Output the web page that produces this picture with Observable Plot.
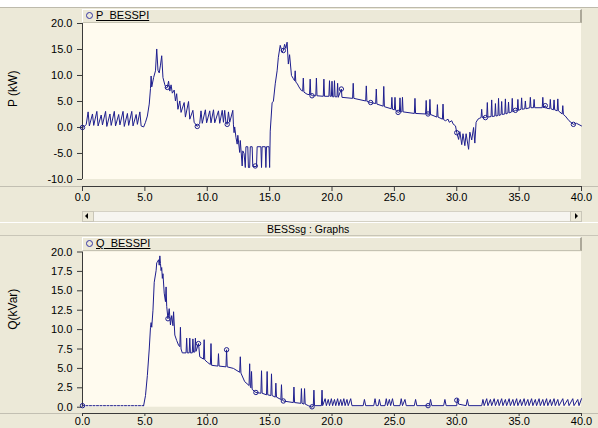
<!DOCTYPE html>
<html>
<head>
<meta charset="utf-8">
<script src="https://cdn.jsdelivr.net/npm/d3@7"></script>
<script src="https://cdn.jsdelivr.net/npm/@observablehq/plot@0.6"></script>
<style>
  body { margin: 0; background: #ECE9D8; }
  #wrap { position: relative; width: 598px; height: 428px; overflow: hidden; background: #ECE9D8;
          font-family: "Liberation Sans", Arial, sans-serif; color: #000; }
  .abs { position: absolute; }
  .leg { position: absolute; left: 82px; width: 497px; height: 12px; background: #ECE9D8;
         border-top: 1px solid #fff; border-left: 1px solid #fff; border-right: 2px solid #ACA899; border-bottom: 1px solid #C5C2B2; }
  .sym { position: absolute; left: 3px; top: 2px; width: 5px; height: 5px; border: 1px solid #3535A5; border-radius: 50%; }
  .lt { position: absolute; left: 13px; top: -1px; font-size: 11px; line-height: 13px; text-decoration: underline; }
  .hline { position: absolute; left: 0; width: 598px; height: 1px; }
</style>
</head>
<body>
<div id="wrap">
  <div class="abs" style="left:0;top:0;width:598px;height:7px;background:#fff;border-bottom:1px solid #BDBAAC"></div>
  <div class="hline" style="top:186px;background:#C2BFB2"></div>
  <div class="hline" style="top:413px;background:#C2BFB2"></div>
  <div id="topChart" class="abs" style="left:0;top:0"></div>
  <div id="botChart" class="abs" style="left:0;top:240px"></div>

  <div class="leg" style="top:9px"><span class="sym"></span><span class="lt">P_BESSPI</span></div>

  <!-- scrollbar -->
  <div class="abs" style="left:82px;top:211px;width:498px;height:9px;background:#F6F5F0;border:1px solid #D4D1C4"></div>
  <div class="abs" style="left:82px;top:211px;width:10px;height:9px;background:#ECE9D8;border:1px solid #C9C6B8"></div>
  <div class="abs" style="left:85px;top:213px;width:0;height:0;border-top:3px solid transparent;border-bottom:3px solid transparent;border-right:3px solid #000"></div>
  <div class="abs" style="left:570px;top:211px;width:10px;height:9px;background:#ECE9D8;border:1px solid #C9C6B8"></div>
  <div class="abs" style="left:575px;top:213px;width:0;height:0;border-top:3px solid transparent;border-bottom:3px solid transparent;border-left:3px solid #000"></div>

  <!-- title band -->
  <div class="hline" style="top:222px;background:#fff"></div>
  <div class="hline" style="top:235px;background:#C9C6B8"></div>
  <div class="abs" style="left:267px;top:223px;font-size:10.5px;line-height:12px;white-space:nowrap">BESSsg : Graphs</div>

  <div class="leg" style="top:237px"><span class="sym"></span><span class="lt">Q_BESSPI</span></div>
</div>

<script>
// ---- data ----
const xTicks = [0, 5, 10, 15, 20, 25, 30, 35, 40];
const pTicks = [-10, -5, 0, 5, 10, 15, 20];
const qTicks = [0, 2.5, 5, 7.5, 10, 12.5, 15, 17.5, 20];

// P_BESSPI [time s, kW]
const pSeries = [
  [0,0],[0.15,0.2],[0.3,0.6],[0.45,3.0],[0.55,0.3],[0.8,2.6],[0.9,0.4],[1.15,3.1],[1.25,0.3],[1.5,2.4],
  [1.6,0.5],[1.85,3.1],[1.95,0.2],[2.2,2.6],[2.3,0.4],[2.55,3.1],[2.65,0.3],[2.9,2.5],[3.0,0.5],[3.25,3.1],
  [3.35,0.2],[3.6,2.7],[3.7,0.4],[3.95,3.1],[4.05,0.3],[4.3,2.5],[4.4,0.6],[4.6,3.0],[4.7,0.3],[4.9,0.1],
  [5.05,1.0],[5.2,2.2],[5.35,4.5],[5.45,7.5],[5.5,9.9],[5.55,7.8],[5.7,9.6],[5.85,10.9],[5.95,15.1],[6.05,11.0],
  [6.15,10.5],[6.25,12.0],[6.35,13.8],[6.45,9.6],[6.6,8.2],[6.7,7.6],[6.8,7.7],[6.9,8.9],[7.0,7.0],[7.1,8.2],
  [7.2,6.6],[7.35,7.2],[7.45,5.1],[7.55,6.5],[7.65,3.5],[7.8,5.1],[7.9,2.9],[8.15,4.8],[8.25,2.0],[8.5,5.0],
  [8.6,1.6],[8.85,3.3],[8.95,1.0],[9.2,0.2],[9.4,0.8],[9.5,3.2],[9.6,0.8],[9.85,3.4],[9.95,0.9],[10.2,3.2],
  [10.3,0.9],[10.5,3.4],[10.6,0.9],[10.9,3.2],[11.0,0.8],[11.2,3.3],[11.3,1.0],[11.4,3.3],[11.5,0.8],[11.6,0.6],
  [11.7,3.0],[11.8,1.0],[12.05,3.3],[12.1,0.5],[12.15,-1.0],[12.2,0.1],[12.3,-1.9],[12.4,-3.2],[12.45,-1.5],[12.6,-4.8],
  [12.65,-2.5],[12.8,-7.4],[12.85,-4.5],[12.95,-5.0],[13.05,-7.7],[13.1,-3.7],[13.25,-3.7],[13.3,-7.7],[13.4,-7.7],[13.45,-3.7],
  [13.6,-3.7],[13.65,-7.5],[13.95,-7.5],[14.0,-3.7],[14.3,-3.7],[14.35,-7.7],[14.4,-3.7],[14.65,-3.7],[14.7,-7.7],[14.75,-3.7],
  [14.95,-3.7],[15.0,-7.7],[15.05,-0.7],[15.2,4.8],[15.3,5.0],[15.45,8.4],[15.6,10.9],[15.7,13.5],[15.85,15.8],[16.0,14.5],
  [16.1,14.8],[16.2,16.0],[16.3,15.2],[16.4,16.4],[16.5,12.2],[16.6,14.0],[16.75,10.0],[16.9,9.4],[17.0,9.0],[17.05,10.9],
  [17.1,8.7],[17.2,8.5],[17.35,7.8],[17.55,7.1],[17.65,7.0],[17.7,9.5],[17.75,6.8],[18.0,6.4],[18.2,6.3],[18.25,9.3],
  [18.3,6.3],[18.45,6.1],[18.7,6.1],[18.75,9.5],[18.8,6.1],[19.3,6.0],[19.35,9.3],[19.4,6.0],[19.75,6.0],[19.8,9.0],
  [19.85,6.0],[19.95,6.0],[20.0,8.9],[20.05,5.9],[20.15,5.9],[20.2,9.0],[20.25,5.9],[20.4,5.9],[20.45,8.5],[20.5,5.8],
  [20.75,7.4],[20.8,5.8],[21.65,5.6],[21.7,8.5],[21.75,5.6],[22.7,5.1],[22.75,8.0],[22.8,5.0],[23.1,4.8],[23.5,4.6],
  [23.55,7.4],[23.6,4.5],[24.1,4.1],[24.15,7.9],[24.2,4.0],[24.75,3.6],[24.8,5.8],[24.85,3.5],[25.0,3.4],[25.05,5.8],
  [25.1,3.3],[25.3,2.9],[25.4,3.0],[25.45,5.7],[25.5,3.0],[25.6,3.0],[25.65,5.8],[25.7,3.0],[26.6,2.7],[26.65,5.6],
  [26.7,2.7],[27.5,2.6],[27.55,5.2],[27.6,2.6],[27.7,2.6],[27.8,2.5],[27.85,5.4],[27.9,2.5],[28.4,2.0],[28.45,4.4],
  [28.5,2.0],[28.85,1.6],[28.9,4.5],[28.95,1.5],[29.1,1.3],[29.3,1.6],[29.4,1.0],[29.6,1.3],[29.7,0.7],[29.9,0.3],
  [30.0,-1.0],[30.15,-2.3],[30.25,-0.8],[30.4,-3.3],[30.5,-1.2],[30.65,-3.5],[30.75,-1.2],[30.95,-4.2],[31.05,-0.9],[31.2,-2.4],
  [31.35,0.0],[31.45,-3.0],[31.55,1.0],[31.7,1.6],[31.85,1.8],[31.95,1.9],[32.0,3.5],[32.05,1.9],[32.3,1.9],[32.4,2.0],
  [32.45,4.8],[32.5,2.0],[32.75,2.1],[32.8,5.3],[32.85,2.1],[33.05,2.2],[33.1,4.6],[33.15,2.2],[33.3,2.3],[33.35,5.6],
  [33.4,2.3],[33.55,2.5],[33.6,5.0],[33.65,2.5],[33.85,2.6],[33.9,5.5],[33.95,2.6],[34.1,2.8],[34.15,4.9],[34.2,2.8],
  [34.4,3.0],[34.45,5.6],[34.5,3.0],[34.7,3.3],[34.85,3.3],[34.9,5.4],[34.95,3.3],[35.15,3.5],[35.2,5.7],[35.25,3.5],
  [35.45,3.6],[35.5,5.1],[35.55,3.6],[35.85,3.8],[35.9,5.8],[35.95,3.8],[36.15,3.8],[36.2,5.4],[36.25,3.8],[36.85,3.8],
  [36.9,5.8],[36.95,3.8],[37.1,4.2],[37.2,3.7],[37.45,3.6],[37.5,5.4],[37.55,3.6],[37.75,3.4],[37.8,5.3],[37.85,3.4],
  [38.05,3.2],[38.1,5.5],[38.15,3.2],[38.45,2.6],[38.5,4.2],[38.55,2.5],[38.7,2.2],[39.0,1.3],[39.35,0.6],[39.6,0.8],[40,0.3]
];
const pMarkers = [
  [0,0],[6.8,7.7],[9.2,0.2],[11.6,0.6],[13.85,-7.4],[16.1,14.8],[18.4,6.1],[20.75,7.4],
  [23.1,4.8],[25.3,2.9],[27.7,2.6],[30.0,-1.0],[32.3,1.9],[34.7,3.3],[37.1,4.2],[39.35,0.6]
];

// Q_BESSPI [time s, kVar]
const qSeries = [
  [0,0.2],[4.9,0.2],
  [5.05,1.5],[5.2,4.1],[5.35,7.5],[5.45,10.3],[5.5,10.9],[5.55,10.3],[5.65,12.5],[5.75,16.1],[5.9,17.6],[5.95,18.6],
  [6.0,18.7],[6.1,19.0],[6.15,18.3],[6.2,19.5],[6.25,18.5],[6.3,17.6],[6.35,18.0],[6.4,16.6],[6.45,17.2],[6.55,14.7],
  [6.65,13.6],[6.7,15.5],[6.75,13.0],[6.85,11.4],[6.95,12.7],[7.05,10.6],[7.15,11.8],[7.25,10.5],[7.3,12.3],[7.4,9.3],
  [7.55,8.6],[7.7,8.0],[7.8,7.8],[7.85,10.3],[7.9,7.5],[8.0,7.0],[8.3,7.0],[8.35,8.9],[8.4,7.0],[8.55,7.0],
  [8.6,8.9],[8.65,7.0],[8.8,7.0],[8.85,8.8],[8.9,7.1],[9.0,7.1],[9.05,8.9],[9.1,7.2],[9.3,8.2],[9.4,6.5],
  [9.7,6.2],[9.75,8.7],[9.8,6.1],[10.0,5.8],[10.25,5.5],[10.3,8.2],[10.35,5.4],[10.85,5.3],[10.9,6.9],[10.95,5.3],
  [11.5,5.2],[11.55,7.4],[11.6,5.2],[12.1,5.0],[12.6,4.5],[12.65,6.5],[12.7,4.4],[13.0,3.3],[13.35,2.8],[13.4,5.6],
  [13.45,2.7],[13.5,2.5],[13.55,4.6],[13.6,2.3],[13.9,1.9],[14.3,1.8],[14.35,4.7],[14.4,1.8],[14.75,1.6],[14.8,4.6],
  [14.85,1.6],[15.1,1.5],[15.15,4.3],[15.2,1.5],[15.45,1.3],[15.5,3.1],[15.55,1.3],[15.9,1.0],[15.95,2.9],[16.0,1.0],
  [16.1,0.8],[16.9,0.6],[16.95,2.6],[17.0,0.6],[17.5,0.5],[17.55,2.4],[17.6,0.5],[17.75,0.4],[17.8,2.4],[17.85,0.4],
  [18.1,0.2],[18.4,0.0],[18.5,0.2],[18.55,2.2],[18.6,0.2],[19.15,0.2],[19.2,2.2],[19.25,0.2],
  [19.45,1.1],[19.55,0.2],[19.7,1.0],[19.8,0.2],[19.95,1.1],[20.05,0.2],[20.2,1.0],[20.3,0.2],[20.45,1.1],[20.55,0.2],
  [20.7,1.0],[20.8,0.2],[20.95,1.1],[21.05,0.2],[21.2,1.0],[21.3,0.2],[21.5,1.1],[21.6,0.2],
  [22.5,0.2],[22.6,1.0],[22.7,0.2],[23.35,0.2],[23.45,1.1],[23.55,0.2],[23.7,0.2],[23.8,1.0],[23.9,0.2],[24.25,0.2],
  [24.35,1.1],[24.45,0.2],[24.6,1.0],[24.7,0.2],[24.85,1.1],[24.95,0.2],[25.45,0.2],[25.55,1.1],[25.65,0.2],[25.85,1.0],
  [25.95,0.2],[26.6,0.2],[26.7,1.0],[26.8,0.2],[27.7,0.2],[27.8,0.2],[27.9,1.0],[28.0,0.2],[28.95,0.2],[29.05,1.0],
  [29.15,0.2],[30.0,0.2],[30.05,1.1],[30.15,0.4],[30.75,0.2],[30.85,1.0],[30.95,0.2],[32.0,0.2],
  [32.1,1.0],[32.2,0.2],[32.4,1.1],[32.5,0.2],[32.7,1.0],[32.8,0.2],[33.0,1.1],[33.1,0.2],[33.3,1.0],[33.4,0.2],
  [33.6,1.1],[33.7,0.2],[33.9,1.0],[34.0,0.2],[34.2,1.1],[34.3,0.2],[34.5,1.0],[34.6,0.2],[34.8,1.1],[34.9,0.2],
  [35.1,1.0],[35.2,0.2],[35.4,1.1],[35.5,0.2],[35.7,1.0],[35.8,0.2],[36.0,1.1],[36.1,0.2],[36.3,1.0],[36.4,0.2],
  [36.6,1.1],[36.7,0.2],[36.9,1.0],[37.0,0.2],[37.2,1.1],[37.3,0.2],[37.5,1.0],[37.6,0.2],[37.8,1.1],[37.9,0.2],
  [38.1,1.0],[38.2,0.2],[38.5,1.1],[38.6,0.2],[38.9,1.0],[39.0,0.2],[39.3,1.1],[39.4,0.2],[39.7,1.0],[39.8,0.2],[40,1.1]
];
const qMarkers = [
  [0,0.2],[6.85,11.4],[9.3,8.2],[11.55,7.4],[13.9,1.9],[16.1,0.8],[18.4,0.05],[27.7,0.2],[30.0,0.9]
];

// ---- drawing ----
const LINE = "#1E1E8E";
const AXIS = "#3a3a3a";
const CREAM = "#FFFBEF";
const fmt = d => d.toFixed(1);
const X = d => d[0], Y = d => d[1];
const style = {fontFamily: '"Liberation Sans", Arial, sans-serif', fontSize: "11px", background: "transparent", color: "#000", overflow: "visible"};

const pLow = -11.35;
const topChart = Plot.plot({
  width: 598, height: 205,
  marginTop: 23, marginBottom: 19, marginLeft: 82, marginRight: 17,
  x: {domain: [0, 40]},
  y: {domain: [pLow, 20]},
  style,
  marks: [
    Plot.rect([0], {x1: 0, x2: 40, y1: -10, y2: 20, fill: CREAM}),
    Plot.ruleX([0], {y1: -10, y2: 20, stroke: AXIS}),
    Plot.ruleY([pLow], {x1: 0, x2: 40, stroke: AXIS}),
    Plot.axisY(pTicks, {tickFormat: fmt, tickSize: 5, tickPadding: 5, label: null, stroke: AXIS}),
    Plot.axisX(xTicks, {tickFormat: fmt, tickSize: 5, tickPadding: 2, label: null, stroke: AXIS}),
    Plot.line(pSeries, {x: X, y: Y, stroke: LINE, strokeWidth: 1}),
    Plot.dot(pMarkers, {x: X, y: Y, r: 2.2, stroke: LINE, fill: "none", strokeWidth: 1}),
    Plot.text(["P (kW)"], {text: d => d, frameAnchor: "left", rotate: -90, dx: -69, dy: 2, fontSize: 12})
  ]
});
document.getElementById("topChart").appendChild(topChart);

const qLow = -0.81;
const botChart = Plot.plot({
  width: 598, height: 188,
  marginTop: 11.5, marginBottom: 15, marginLeft: 82, marginRight: 17,
  x: {domain: [0, 40]},
  y: {domain: [qLow, 20]},
  style,
  marks: [
    Plot.rect([0], {x1: 0, x2: 40, y1: 0, y2: 20, fill: CREAM}),
    Plot.ruleX([0], {y1: 0, y2: 20, stroke: AXIS}),
    Plot.ruleY([qLow], {x1: 0, x2: 40, stroke: AXIS}),
    Plot.axisY(qTicks, {tickFormat: fmt, tickSize: 5, tickPadding: 5, label: null, stroke: AXIS}),
    Plot.axisX(xTicks, {tickFormat: fmt, tickSize: 3, tickPadding: 1, label: null, stroke: AXIS}),
    Plot.line(qSeries.filter(d => d[0] <= 4.9), {x: X, y: Y, stroke: LINE, strokeWidth: 1, strokeDasharray: "2,1.5"}),
    Plot.line(qSeries.filter(d => d[0] >= 4.9), {x: X, y: Y, stroke: LINE, strokeWidth: 1}),
    Plot.dot(qMarkers, {x: X, y: Y, r: 2.2, stroke: LINE, fill: "none", strokeWidth: 1}),
    Plot.text(["Q(kVar)"], {text: d => d, frameAnchor: "left", rotate: -90, dx: -69, dy: -3, fontSize: 12})
  ]
});
document.getElementById("botChart").appendChild(botChart);
</script>
</body>
</html>
